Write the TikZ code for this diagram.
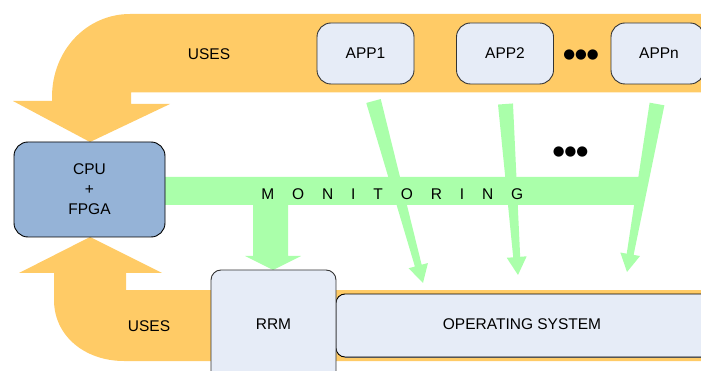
\documentclass[tikz,border=0pt]{standalone}
\usepackage{fontspec}
\setmainfont{Liberation Sans}
\newfontfamily\symfont{DejaVu Sans}
\usetikzlibrary{calc}
\definecolor{orng}{HTML}{FFCB66}
\definecolor{grn}{HTML}{AAFFAA}
\definecolor{cpublue}{HTML}{95B3D7}
\definecolor{boxfill}{HTML}{E6ECF7}
\definecolor{edge}{HTML}{333333}
\newcommand\fatarr[2]{%
  \coordinate (#1h) at ($(#2)!18pt!(#1)$);
  \fill[grn] ($(#1)!7.5pt!90:(#2)$) -- ($(#1h)!3.5pt!90:(#2)$) -- ($(#1h)!10pt!90:(#2)$)
    -- (#2) -- ($(#1h)!10pt!-90:(#2)$) -- ($(#1h)!3.5pt!-90:(#2)$) -- ($(#1)!7.5pt!-90:(#2)$) -- cycle;}
\newcommand\gap{\hspace{17.9pt}}
\begin{document}
\begin{tikzpicture}[x=1pt,y=-1pt,
  font=\fontsize{15.5}{20}\selectfont,
  appbox/.style={draw=edge, line width=0.9pt, fill=boxfill, rounded corners=14pt,
    minimum width=97pt, minimum height=61pt, inner sep=0pt, outer sep=0pt},
  cpubox/.style={draw=black, line width=0.9pt, fill=cpublue, rounded corners=14pt,
    minimum width=151pt, minimum height=95pt, inner sep=0pt, outer sep=0pt, align=center},
  lbl/.style={inner sep=0pt},
  dots/.style={inner sep=0pt, font=\symfont\fontsize{13.5}{13.5}\selectfont}]
\useasboundingbox (0,0) rectangle (701,371);
\clip (0,0) rectangle (701,371);
% orange "uses" arrows
\fill[orng] (705,14) -- (130,14) .. controls (87,14) and (52,50) .. (52,97) -- (52,101)
  -- (13,101) -- (90,142) -- (170,104) -- (131,104) -- (131,92.5) -- (705,92.5) -- cycle;
\fill[orng] (90,237) -- (162,273) -- (126,273) -- (126,290) -- (705,290) -- (705,361)
  -- (124,361) .. controls (85,361) and (54,336) .. (54,300) -- (54,273) -- (19,273) -- cycle;
\node[lbl] (uses1) at (209,54) {USES};
\node[lbl] (uses2) at (149,326) {USES};
% green monitoring bar
\fill[grn] (150,177) -- (641,177) -- (636,205) -- (150,205) -- cycle;
\coordinate (re) at (273,270);
\fill[grn] (253,204) -- (253,256) -- (245,256) -- (re) -- (301,256) -- (288,256) -- (288,204) -- cycle;
% app arrows
\coordinate (a1s) at (373.5,101);
\coordinate (a1e) at (423,283);
\coordinate (a2s) at (505.5,104);
\coordinate (a2e) at (518,275);
\coordinate (a3s) at (657,104);
\coordinate (a3e) at (627,272);
\fatarr{a1s}{a1e}
\fatarr{a2s}{a2e}
\fatarr{a3s}{a3e}
\node[lbl] (mon) at (392.3,194) {M\gap O\gap N\gap I\gap T\gap O\gap R\gap I\gap N\gap G};
\node[dots] (dtop) at (581,55) {●●●};
\node[dots] (dmid) at (570.5,152) {●●●};
% boxes
\node[appbox] (app1) at (365.5,53.5) {APP1};
\node[appbox] (app2) at (505,53.5) {APP2};
\node[appbox, minimum width=93pt] (appn) at (657.5,53.5) {\hspace{3pt}APPn};
\node[cpubox] (cpu) at (89.5,189.5) {CPU\\+\\FPGA};
\draw[draw=black!55, line width=1.6pt] (345,357.5) -- (720,357.5);
\node[appbox, rounded corners=9pt, draw=black, minimum width=384pt, minimum height=63pt, anchor=west] (os) at (336,325.5) {};
\node[lbl] (ost) at (522,324) {OPERATING SYSTEM};
\node[appbox, rounded corners=10pt, minimum width=125pt, minimum height=120pt, anchor=north] (rrm) at (273.5,270) {};
\node[lbl] (rrmt) at (273.5,324) {RRM};
\end{tikzpicture}
\end{document}
